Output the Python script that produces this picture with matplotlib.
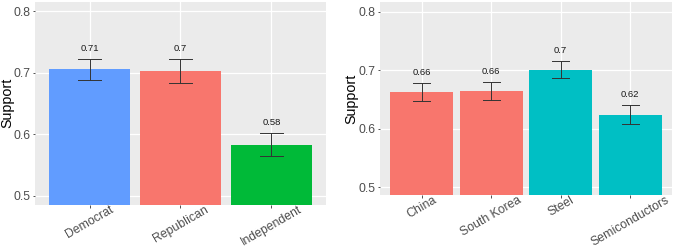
import matplotlib
matplotlib.use("Agg")
import matplotlib.pyplot as plt

plt.rcParams['font.family'] = ['Liberation Sans', 'DejaVu Sans']

# Left panel data
party_cats = ["Democrat", "Republican", "Independent"]
party_vals = [0.7054, 0.703, 0.583]
party_lo = [0.6886, 0.6837, 0.5642]
party_hi = [0.7228, 0.7228, 0.6027]
party_colors = ["#619CFF", "#F8766D", "#00BA38"]

# Right panel data
target_cats = ["China", "South Korea", "Steel", "Semiconductors"]
target_vals = [0.6629, 0.6641, 0.701, 0.624]
target_lo = [0.6475, 0.6487, 0.6863, 0.6085]
target_hi = [0.6783, 0.6795, 0.716, 0.6404]
target_colors = ["#F8766D", "#F8766D", "#00BFC4", "#00BFC4"]

yticks = [0.5, 0.6, 0.7, 0.8]

fig = plt.figure(figsize=(6.73, 2.48), dpi=100)
ax1 = fig.add_axes([0.052, 0.1746, 0.4324, 0.819])
ax2 = fig.add_axes([0.5646, 0.2125, 0.4339, 0.7796])


def draw(ax, cats, vals, lo, hi, colors, ylim):
    x = list(range(len(cats)))
    ax.set_facecolor("#EBEBEB")
    ax.set_axisbelow(True)
    ax.grid(True, color="white", lw=0.9)
    base = ylim[0] - 0.05
    ax.bar(x, [v - base for v in vals], bottom=base, width=0.9, color=colors, zorder=2)
    for xi, v, l, h in zip(x, vals, lo, hi):
        ax.plot([xi, xi], [l, h], color="#333333", lw=0.7, zorder=3)
        ax.plot([xi - 0.125, xi + 0.125], [l, l], color="#333333", lw=0.7, zorder=3)
        ax.plot([xi - 0.125, xi + 0.125], [h, h], color="#333333", lw=0.7, zorder=3)
        ax.annotate(f"{round(v, 2):g}", (xi, h), xytext=(0, 7.5), textcoords="offset points",
                    ha="center", va="center", fontsize=6.8, color="#1a1a1a", zorder=4)
    ax.set_xlim(-0.6, len(cats) - 0.4)
    ax.set_ylim(*ylim)
    ax.set_yticks(yticks)
    ax.set_yticklabels([f"{t:g}" for t in yticks])
    ax.set_xticks(x)
    ax.set_xticklabels(cats, rotation=30, ha="center")
    for s in ax.spines.values():
        s.set_visible(False)
    ax.tick_params(axis="both", colors="#333333", length=1.8, width=0.6,
                   labelcolor="#4D4D4D")
    ax.tick_params(axis="y", labelsize=8.7, pad=1.2)
    ax.tick_params(axis="x", labelsize=8.8, pad=-2.5)
    ax.set_ylabel("Support", fontsize=10.3, color="black", labelpad=0)


draw(ax1, party_cats, party_vals, party_lo, party_hi, party_colors, (0.4854, 0.8154))
draw(ax2, target_cats, target_vals, target_lo, target_hi, target_colors, (0.4863, 0.8166))

fig.savefig("out.png", dpi=100)
